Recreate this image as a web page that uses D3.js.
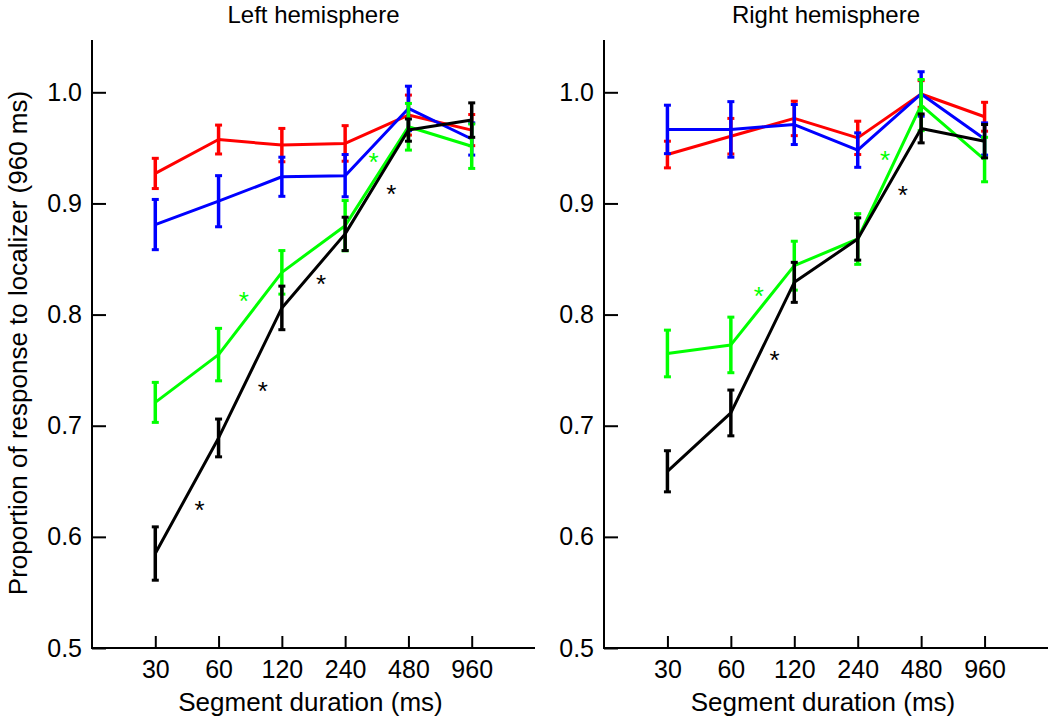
<!DOCTYPE html>
<html>
<head>
<meta charset="utf-8">
<script src="https://cdnjs.cloudflare.com/ajax/libs/d3/7.8.5/d3.min.js"></script>
<style>
  html, body { margin: 0; padding: 0; background: #fff; }
  svg { display: block; }
  text { font-family: "Liberation Sans", Arial, Helvetica, sans-serif; fill: #000; }
</style>
</head>
<body>
<svg id="chart" width="1050" height="720"></svg>
<script>
// ---------------- data ----------------
const durations = ["30", "60", "120", "240", "480", "960"];
const yTickValues = [0.5, 0.6, 0.7, 0.8, 0.9, 1.0];
const panelTitles = ["Left hemisphere", "Right hemisphere"];
const xAxisTitle = "Segment duration (ms)";
const yAxisTitle = "Proportion of response to localizer (960 ms)";
const seriesColors = ["#ff0000", "#0000ff", "#00ff00", "#000000"];

// Left hemisphere: means and error half-widths
const redLeft = [0.927, 0.9575, 0.9525, 0.954, 0.9795, 0.966];
const redLeftErr = [0.0136, 0.013, 0.015, 0.016, 0.018, 0.014];
const blueLeft = [0.881, 0.902, 0.924, 0.925, 0.9855, 0.958];
const blueLeftErr = [0.0226, 0.023, 0.0176, 0.019, 0.020, 0.0145];
const greenLeft = [0.721, 0.764, 0.838, 0.880, 0.969, 0.9515];
const greenLeftErr = [0.018, 0.0236, 0.0196, 0.0226, 0.021, 0.020];
const blackLeft = [0.585, 0.689, 0.806, 0.8726, 0.966, 0.975];
const blackLeftErr = [0.024, 0.017, 0.0196, 0.015, 0.010, 0.0155];

// Right hemisphere
const redRight = [0.944, 0.9605, 0.9765, 0.959, 0.9985, 0.978];
const redRightErr = [0.012, 0.016, 0.0155, 0.015, 0.012, 0.013];
const blueRight = [0.9666, 0.9666, 0.971, 0.948, 0.9985, 0.958];
const blueRightErr = [0.0218, 0.025, 0.018, 0.0155, 0.020, 0.0145];
const greenRight = [0.765, 0.7727, 0.844, 0.868, 0.9885, 0.9395];
const greenRightErr = [0.021, 0.025, 0.022, 0.0228, 0.023, 0.020];
const blackRight = [0.659, 0.7115, 0.829, 0.868, 0.9675, 0.956];
const blackRightErr = [0.0185, 0.0206, 0.018, 0.019, 0.013, 0.015];

// significance asterisks (position index along x, value along y, colour)
const starsLeftX = [0.70, 1.70, 2.62, 3.73, 1.40, 3.45];
const starsLeftY = [0.629, 0.7356, 0.832, 0.9133, 0.817, 0.942];
const starsLeftC = ["#000000", "#000000", "#000000", "#000000", "#00ff00", "#00ff00"];
const starsRightX = [1.69, 3.71, 1.44, 3.43];
const starsRightY = [0.764, 0.912, 0.821, 0.944];
const starsRightC = ["#000000", "#000000", "#00ff00", "#00ff00"];

// ---------------- build ----------------
const panels = [
  {
    title: panelTitles[0],
    xRange: [92, 535],
    series: [
      {v: redLeft, e: redLeftErr, c: seriesColors[0]},
      {v: blueLeft, e: blueLeftErr, c: seriesColors[1]},
      {v: greenLeft, e: greenLeftErr, c: seriesColors[2]},
      {v: blackLeft, e: blackLeftErr, c: seriesColors[3]}
    ],
    stars: starsLeftX.map((x, i) => ({x, y: starsLeftY[i], c: starsLeftC[i]})),
    yLabel: true
  },
  {
    title: panelTitles[1],
    xRange: [604, 1048],
    series: [
      {v: redRight, e: redRightErr, c: seriesColors[0]},
      {v: blueRight, e: blueRightErr, c: seriesColors[1]},
      {v: greenRight, e: greenRightErr, c: seriesColors[2]},
      {v: blackRight, e: blackRightErr, c: seriesColors[3]}
    ],
    stars: starsRightX.map((x, i) => ({x, y: starsRightY[i], c: starsRightC[i]})),
    yLabel: false
  }
];

const svg = d3.select("#chart");
const y = d3.scaleLinear().domain([0.5, 1.0]).range([648, 92.3]);
const yTop = 1.047;

panels.forEach(p => {
  const x = d3.scaleLinear().domain([-1, 6]).range(p.xRange);
  const g = svg.append("g");
  const x0 = p.xRange[0], x1 = p.xRange[1];
  const yBottom = y(0.5);

  // y axis
  const yAxis = d3.axisLeft(y).tickValues(yTickValues).tickFormat(d3.format(".1f"))
    .tickSizeInner(-14).tickSizeOuter(0).tickPadding(10);
  const ya = g.append("g").attr("transform", `translate(${x0},0)`).call(yAxis);
  ya.select(".domain").remove();
  ya.selectAll(".tick line").attr("stroke", "#000").attr("stroke-width", 2);
  ya.selectAll(".tick text").style("font-size", "25px").attr("fill", "#000");

  // x axis
  const xAxis = d3.axisBottom(x).tickValues(d3.range(durations.length))
    .tickFormat(i => durations[i]).tickSizeInner(-12).tickSizeOuter(0).tickPadding(12);
  const xa = g.append("g").attr("transform", `translate(0,${yBottom})`).call(xAxis);
  xa.select(".domain").remove();
  xa.selectAll(".tick line").attr("stroke", "#000").attr("stroke-width", 2);
  xa.selectAll(".tick text").style("font-size", "25px").attr("fill", "#000")
    .attr("dy", null).attr("y", 30);

  // axis lines
  g.append("line").attr("x1", x0).attr("x2", x0).attr("y1", y(yTop)).attr("y2", yBottom + 1)
    .attr("stroke", "#000").attr("stroke-width", 2);
  g.append("line").attr("x1", x0 - 1).attr("x2", x1).attr("y1", yBottom).attr("y2", yBottom)
    .attr("stroke", "#000").attr("stroke-width", 2);

  // titles
  g.append("text").attr("x", (x0 + x1) / 2).attr("y", 23).attr("text-anchor", "middle")
    .style("font-size", "24px").text(p.title);
  g.append("text").attr("x", (x0 + x1) / 2 - 3).attr("y", 711).attr("text-anchor", "middle")
    .style("font-size", "26px").text(xAxisTitle);

  // series
  const line = d3.line().x((d, i) => x(i)).y(d => y(d));
  p.series.forEach(s => {
    const sg = g.append("g");
    sg.append("path").datum(s.v).attr("d", line).attr("fill", "none")
      .attr("stroke", s.c).attr("stroke-width", 3).attr("stroke-linejoin", "round");
    const eb = sg.selectAll(".eb").data(s.v.map((v, i) => ({i, v, e: s.e[i]}))).enter().append("g");
    eb.append("line").attr("x1", d => x(d.i)).attr("x2", d => x(d.i))
      .attr("y1", d => y(d.v - d.e)).attr("y2", d => y(d.v + d.e))
      .attr("stroke", s.c).attr("stroke-width", 3.5);
    [-1, 1].forEach(sgn => {
      eb.append("line").attr("x1", d => x(d.i) - 3.5).attr("x2", d => x(d.i) + 3.5)
        .attr("y1", d => y(d.v + sgn * d.e)).attr("y2", d => y(d.v + sgn * d.e))
        .attr("stroke", s.c).attr("stroke-width", 3);
    });
  });

  // asterisks
  g.selectAll(".star").data(p.stars).enter().append("text")
    .attr("x", d => x(d.x)).attr("y", d => y(d.y) + 14)
    .attr("text-anchor", "middle").style("font-size", "26px")
    .style("fill", d => d.c).text("*");

  if (p.yLabel) {
    svg.append("text").attr("transform", "translate(27,343) rotate(-90)")
      .attr("text-anchor", "middle").style("font-size", "26px").text(yAxisTitle);
  }
});
</script>
</body>
</html>
